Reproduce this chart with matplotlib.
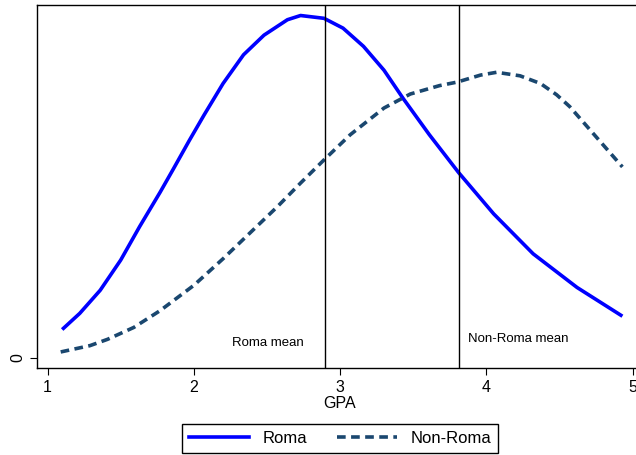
import matplotlib.pyplot as plt
from matplotlib.lines import Line2D

plt.rcParams["font.family"] = ["Liberation Sans", "DejaVu Sans"]

# Kernel density of GPA (y in arbitrary density units)
roma_gpa = [1.10, 1.22, 1.36, 1.50, 1.63, 1.77, 1.86, 1.97, 2.07, 2.20, 2.34, 2.48,
            2.64, 2.73, 2.89, 3.02, 3.16, 3.30, 3.43, 3.61, 3.81, 4.05, 4.32, 4.62, 4.93]
roma_density = [0.040, 0.063, 0.096, 0.139, 0.187, 0.236, 0.269, 0.310, 0.346, 0.391,
                0.432, 0.460, 0.482, 0.488, 0.484, 0.470, 0.444, 0.410, 0.370, 0.318,
                0.264, 0.205, 0.148, 0.100, 0.059]

nonroma_gpa = [1.09, 1.29, 1.41, 1.59, 1.77, 2.00, 2.20, 2.38, 2.57, 2.73, 2.89, 3.07,
               3.30, 3.48, 3.68, 3.80, 3.96, 4.07, 4.23, 4.37, 4.48, 4.57, 4.75, 4.93]
nonroma_density = [0.008, 0.017, 0.026, 0.043, 0.067, 0.103, 0.141, 0.177, 0.215, 0.249,
                   0.282, 0.318, 0.356, 0.376, 0.388, 0.393, 0.403, 0.407, 0.402, 0.391,
                   0.375, 0.358, 0.315, 0.272]

roma_mean = 2.90
nonroma_mean = 3.81
xticks = [1, 2, 3, 4, 5]

fig = plt.figure(figsize=(6.36, 4.55), dpi=100)
W, H = 636, 455
# axes box in pixels: left 37, top 5, bottom 368, right runs past the edge
ax = fig.add_axes([37 / W, 1 - 368 / H, (642 - 37) / W, (368 - 5) / H])

ax.plot(roma_gpa, roma_density, color="#0000ff", lw=2.6, solid_capstyle="butt")
ax.plot(nonroma_gpa, nonroma_density, color="#1a476f", lw=2.6,
        dashes=(2.4, 1.5))

ax.axvline(roma_mean, color="black", lw=1.0)
ax.axvline(nonroma_mean, color="black", lw=1.0)
ax.text(2.26, 0.021, "Roma mean", fontsize=9.5, va="center", ha="left")
ax.text(3.876, 0.026, "Non-Roma mean", fontsize=9.5, va="center", ha="left")

ax.set_xlim(0.928, 5.064)
ax.set_ylim(-0.0149, 0.503)
ax.set_xticks(xticks)
ax.set_xticklabels([str(t) for t in xticks], fontsize=11.5)
ax.set_yticks([0])
ax.set_yticklabels(["0"], fontsize=11.5, rotation=90, va="center")
ax.tick_params(axis="both", length=5, width=0.8, color="black", pad=3.5)
ax.set_xlabel("GPA", fontsize=11.5, labelpad=1)
for s in ax.spines.values():
    s.set_linewidth(1.0)

handles = [
    Line2D([], [], color="#0000ff", lw=2.6),
    Line2D([], [], color="#1a476f", lw=2.6, dashes=(2.4, 1.5)),
]
fig.legend(handles, ["Roma", "Non-Roma"], loc="center",
           bbox_to_anchor=(340 / W, 1 - 438.5 / H), ncol=2, fontsize=12,
           frameon=True, fancybox=False, edgecolor="black", framealpha=1,
           handlelength=3.6, handletextpad=0.8, columnspacing=1.8,
           borderpad=0.4)

fig.savefig("out.png", dpi=100)
